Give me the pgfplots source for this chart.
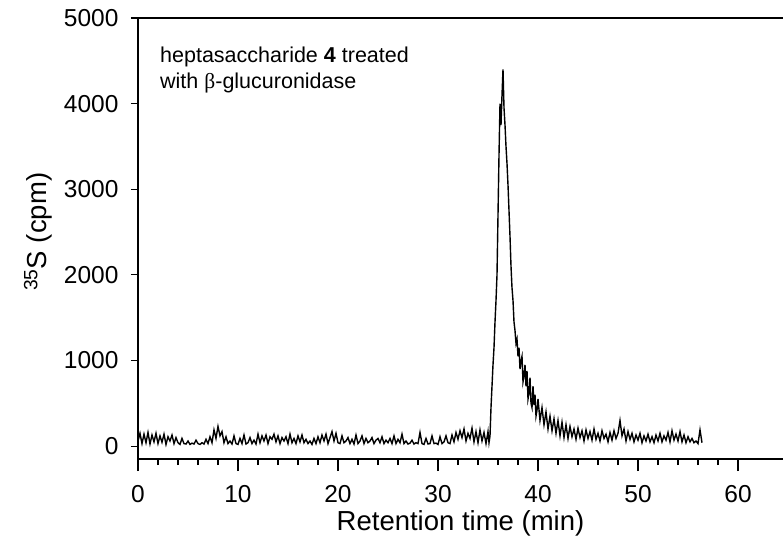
\documentclass[border=0pt]{standalone}
\usepackage{fontspec}
\setmainfont{Liberation Sans}
\newfontfamily\symfont{Liberation Serif}
\usepackage{pgfplots}
\pgfplotsset{compat=1.18}
\pgfplotsset{base/.style={scale only axis, width=645pt, height=441pt,
  xmin=0, xmax=64.5, ymin=-150, ymax=5000, clip=false,
  axis line style={line width=1.2pt},
  tick align=outside,
  every tick/.style={black, line width=1.2pt},
  /pgf/number format/assume math mode=true,
  /pgf/number format/1000 sep={},
  tick label style={font=\fontsize{24.5}{28}\selectfont},
  label style={font=\fontsize{27.5}{32}\selectfont}}}
\begin{document}
\begin{tikzpicture}
\begin{axis}[base, name=axx,
  axis x line*=bottom, axis y line=none,
  major tick length=12pt, minor tick length=6pt,
  xtick={0,10,20,30,40,50,60}, minor x tick num=4,
  xticklabel style={yshift=-11pt},
  xlabel={Retention time (min)},
  xlabel style={at={(axis description cs:0.5,-0.145)}, anchor=center},
]
\end{axis}
\begin{axis}[base, name=ax,
  axis y line*=left, axis x line=none,
  major tick length=7pt,
  ytick={0,1000,2000,3000,4000,5000},
  yticklabel style={xshift=-9pt},
  ylabel={\textsuperscript{35}S (cpm)},
  ylabel style={at={(axis description cs:-0.155,0.515)}, anchor=center},
]
\addplot[black, line width=1.4pt] coordinates {
(0,60)(0.2,150)(0.4,30)(0.6,140)(0.8,40)(1.0,160)(1.2,25)(1.4,130)(1.6,50)(1.8,150)(2.0,30)(2.2,120)(2.4,45)(2.6,140)(2.8,20)(3.0,110)(3.2,60)(3.4,130)(3.6,30)(3.8,100)(4.0,40)
(4.2,20)(4.4,90)(4.6,30)(4.8,25)(5.0,60)(5.2,20)(5.4,35)(5.6,25)(5.8,70)(6.0,30)(6.2,20)(6.4,40)(6.6,25)(6.8,80)(7.0,30)(7.2,110)(7.4,40)
(7.6,190)(7.8,90)(8.0,230)(8.2,120)(8.4,170)
(8.6,40)(8.8,110)(9.0,30)(9.2,60)(9.4,25)(9.6,120)(9.8,30)(10.0,20)(10.2,90)(10.4,30)(10.6,130)(10.8,25)(11.0,40)(11.2,100)(11.4,30)(11.6,70)(11.8,25)(12.0,140)
(12.2,40)(12.4,120)(12.6,60)(12.8,130)(13.0,30)(13.2,110)(13.4,80)(13.6,140)(13.8,50)(14.0,120)(14.2,30)(14.4,100)(14.6,60)(14.8,110)(15.0,30)(15.2,140)(15.4,40)(15.6,90)(15.8,30)(16.0,120)(16.2,50)(16.4,130)(16.6,40)(16.8,80)(17.0,30)(17.2,60)(17.4,20)(17.6,90)(17.8,30)(18.0,110)
(18.2,40)(18.4,130)(18.6,60)(18.8,140)(19.0,30)(19.2,100)(19.4,170)(19.6,60)(19.8,150)(20.0,40)(20.2,30)(20.4,120)(20.6,40)(20.8,60)(21.0,100)(21.2,30)(21.4,80)(21.6,25)(21.8,130)(22.0,30)
(22.2,60)(22.4,120)(22.6,30)(22.8,90)(23.0,40)(23.2,60)(23.4,100)(23.6,30)(23.8,70)(24.0,90)(24.2,40)(24.4,110)(24.6,30)(24.8,70)(25.0,40)(25.2,90)(25.4,30)(25.6,120)(25.8,30)(26.0,80)(26.2,40)(26.4,140)(26.6,30)(26.8,60)(27.0,25)
(27.2,35)(27.4,70)(27.6,25)(27.8,40)(28.0,30)(28.2,160)(28.4,30)(28.6,20)(28.8,90)(29.0,25)(29.2,30)(29.4,120)(29.6,30)(29.8,35)(30.0,20)
(30.2,110)(30.4,30)(30.6,50)(30.8,120)(31.0,40)(31.2,30)(31.4,130)(31.6,50)(31.8,160)(32.0,80)(32.2,180)(32.4,100)(32.6,200)(32.8,60)(33.0,150)(33.2,90)(33.4,210)(33.6,50)(33.8,170)(34.0,40)(34.2,190)(34.4,60)(34.6,160)(34.8,30)(35.0,170)
(35.1,40)(35.2,120)(35.3,450)(35.4,700)(35.5,950)(35.6,1150)(35.7,1450)(35.8,1700)(35.9,2000)(36.0,2700)(36.1,3400)(36.2,4000)(36.3,3750)(36.4,4100)(36.5,4400)(36.6,3950)(36.7,3750)(36.8,3500)(36.9,3300)(37.0,3050)(37.1,2750)(37.2,2450)(37.3,2100)(37.4,1850)(37.5,1700)(37.6,1450)(37.7,1350)(37.8,1200)(37.9,1250)(38.0,1050)
(38.1,1150)(38.2,900)(38.3,1000)(38.4,1050)(38.5,750)(38.6,820)(38.7,950)(38.8,700)(38.9,880)(39.0,550)(39.1,620)(39.2,800)(39.3,500)(39.4,450)(39.5,700)(39.6,480)(39.7,600)(39.8,350)(39.9,420)(40.0,550)(40.2,300)(40.4,450)(40.6,250)(40.8,400)(41.0,200)(41.2,350)(41.4,180)(41.6,320)(41.8,150)(42.0,300)(42.2,120)(42.4,280)(42.6,100)(42.8,250)(43.0,90)(43.2,230)(43.4,110)(43.6,200)(43.8,80)(44.0,210)(44.2,100)(44.4,180)(44.6,60)(44.8,190)(45.0,90)(45.2,170)(45.4,70)(45.6,200)(45.8,80)(46.0,150)(46.2,60)(46.4,180)(46.6,90)(46.8,140)(47.0,50)(47.2,160)(47.4,70)(47.6,180)(47.8,90)(48.0,150)(48.2,300)(48.4,120)(48.6,200)(48.8,60)(49.0,170)(49.2,80)(49.4,150)(49.6,50)(49.8,130)(50.0,70)(50.2,150)(50.4,40)(50.6,120)(50.8,60)(51.0,140)(51.2,50)(51.4,110)(51.6,40)(51.8,130)(52.0,60)(52.2,150)(52.4,50)(52.6,120)(52.8,70)(53.0,160)(53.2,50)(53.4,180)(53.6,70)(53.8,140)(54.0,60)(54.2,170)(54.4,50)(54.6,130)(54.8,40)(55.0,110)(55.2,50)(55.4,90)(55.6,40)(55.8,60)(56.0,30)(56.2,190)(56.4,40)
};
\draw[line width=1.2pt] (rel axis cs:0,1) -- (rel axis cs:1,1);
\node[anchor=north west, align=left, inner sep=0pt, font=\fontsize{21.5}{26}\selectfont] at (axis cs:2.2,4660) {heptasaccharide \textbf{4} treated\\with {\symfont β}-glucuronidase};
\end{axis}
\pgfresetboundingbox
\path[use as bounding box] ([xshift=-138pt,yshift=-100pt]ax.south west) rectangle ([yshift=18pt]ax.north east);
\end{tikzpicture}
\end{document}
